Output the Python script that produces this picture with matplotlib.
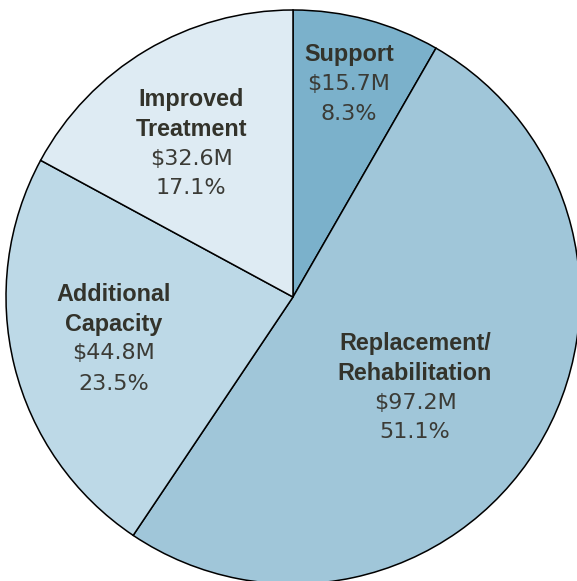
import matplotlib.pyplot as plt

# spending by category, millions of dollars
categories = ["Support", "Replacement/\nRehabilitation", "Additional\nCapacity", "Improved\nTreatment"]
amounts = [15.7, 97.2, 44.8, 32.6]
shares = [8.3, 51.1, 23.5, 17.1]
colors = ["#7bb1cb", "#a0c6d9", "#bdd9e7", "#deebf3"]

# where each label block sits (pixel coords, top of first line)
label_xy = [(349, 43), (415, 332), (114, 283), (191, 88)]

W, H = 577, 581
fig = plt.figure(figsize=(W / 100, H / 100), dpi=100)
ax = fig.add_axes([0, 0, 1, 1])

ax.pie(shares, colors=colors, startangle=90, counterclock=False,
       center=(293, H - 297), radius=287, frame=True,
       wedgeprops=dict(edgecolor="black", linewidth=1.1))
ax.set_xlim(0, W)
ax.set_ylim(0, H)
ax.axis("off")

line_h = 29.5
for name, amt, pct, (x, y) in zip(categories, amounts, shares, label_xy):
    lines = name.split("\n")
    for i, ln in enumerate(lines):
        ax.text(x, H - (y + i * line_h), ln, ha="center", va="top",
                fontsize=16.8, fontweight="bold", color="#33332b",
                family=["Liberation Sans", "DejaVu Sans"])
    n = len(lines)
    ax.text(x, H - (y + n * line_h + 1.5), "$%.1fM" % amt, ha="center", va="top",
            fontsize=16, color="#3b3b36", family="DejaVu Sans")
    ax.text(x, H - (y + (n + 1) * line_h + 2), "%.1f%%" % pct, ha="center", va="top",
            fontsize=16, color="#3b3b36", family="DejaVu Sans")

fig.savefig("out.png", dpi=100)
